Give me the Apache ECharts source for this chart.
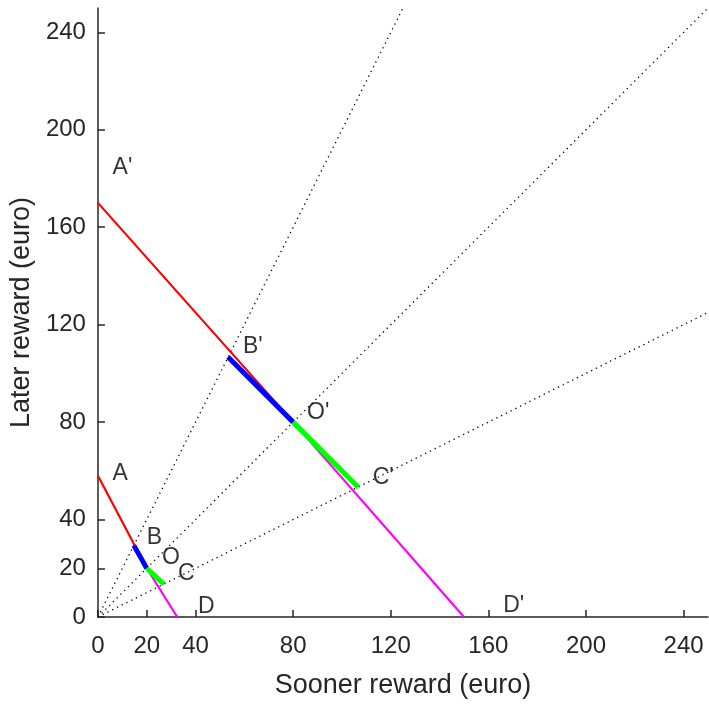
<!DOCTYPE html>
<html>
<head>
<meta charset="utf-8">
<script src="https://cdn.jsdelivr.net/npm/echarts@6/dist/echarts.min.js"></script>
<style>html,body{margin:0;padding:0;background:#fff}#c{width:709px;height:704px}</style>
</head>
<body>
<div id="c"></div>
<script>
const xTicks = [0, 20, 40, 80, 120, 160, 200, 240];
const yTicks = [0, 20, 40, 80, 120, 160, 200, 240];
const xName = 'Sooner reward (euro)';
const yName = 'Later reward (euro)';

// dotted rays from origin
const raySteep = [[0, 0], [125, 250]];
const rayDiag = [[0, 0], [250, 250]];
const rayFlat = [[0, 0], [250, 125]];

// small budget set
const smallRed = [[0, 58], [20, 20]];
const smallMagenta = [[20, 20], [32.5, 0]];
const smallBlue = [[14.7, 29.4], [20, 20]];
const smallGreen = [[20, 20], [27, 13.5]];

// large budget set
const bigRed = [[0, 170], [80, 80]];
const bigMagenta = [[80, 80], [150, 0]];
const bigBlue = [[53.3, 106.7], [80, 80]];
const bigGreen = [[80, 80], [106.7, 53.3]];

// point labels [x, y, text]
const pointLabels = [
  [6.0, 59, 'A'], [20.0, 32.4, 'B'], [26.2, 24.2, 'O'], [32.8, 17.8, 'C'], [41, 4.1, 'D'],
  [6.0, 184.3, "A'"], [59.4, 110.9, "B'"], [85.7, 83.9, "O'"], [112.6, 57.3, "C'"], [166.1, 4.6, "D'"]
];

const FONT = "'Liberation Sans', Arial, sans-serif";
const AX = '#262626';

function line(data, color, width, type, z) {
  return {
    type: 'line', data: data, showSymbol: false, symbol: 'none', silent: true,
    lineStyle: { color: color, width: width, type: type || 'solid', cap: 'butt' },
    z: z, animation: false
  };
}

function axis(name, ticks, isY) {
  return {
    type: 'value', min: 0, max: 250, interval: 10,
    name: name, nameLocation: 'middle', nameGap: isY ? 53 : 55,
    nameTextStyle: { fontFamily: FONT, fontSize: 27, color: AX },
    axisLine: { show: true, onZero: false, lineStyle: { color: AX, width: 1.5 } },
    axisTick: { show: true, inside: true, length: 7, customValues: ticks, lineStyle: { color: AX, width: 1.5 } },
    axisLabel: { show: true, customValues: ticks, fontFamily: FONT, fontSize: 24, color: AX, margin: isY ? 12 : 17 },
    splitLine: { show: false }
  };
}

const chart = echarts.init(document.getElementById('c'));
chart.setOption({
  animation: false,
  backgroundColor: '#fff',
  grid: { left: 97, right: 1, top: 8, bottom: 86 },
  xAxis: axis(xName, xTicks, false),
  yAxis: axis(yName, yTicks, true),
  series: [
    line(raySteep, '#000', 1.3, [1.3, 4], 1),
    line(rayDiag, '#000', 1.3, [1.3, 4], 1),
    line(rayFlat, '#000', 1.3, [1.3, 4], 1),
    line(smallRed, '#ff0000', 2.2, 'solid', 2),
    line(smallMagenta, '#ff00ff', 2.2, 'solid', 2),
    line(bigRed, '#ff0000', 2.2, 'solid', 2),
    line(bigMagenta, '#ff00ff', 2.2, 'solid', 2),
    line(smallBlue, '#0000ff', 5, 'solid', 3),
    line(smallGreen, '#00ff00', 5, 'solid', 3),
    line(bigBlue, '#0000ff', 5, 'solid', 3),
    line(bigGreen, '#00ff00', 5, 'solid', 3),
    {
      type: 'scatter', data: pointLabels, symbolSize: 0, silent: true, z: 5,
      label: {
        show: true, position: 'right', distance: 0,
        formatter: function (p) { return p.data[2]; },
        fontFamily: FONT, fontSize: 23, color: '#000'
      }
    }
  ]
});
</script>
</body>
</html>
